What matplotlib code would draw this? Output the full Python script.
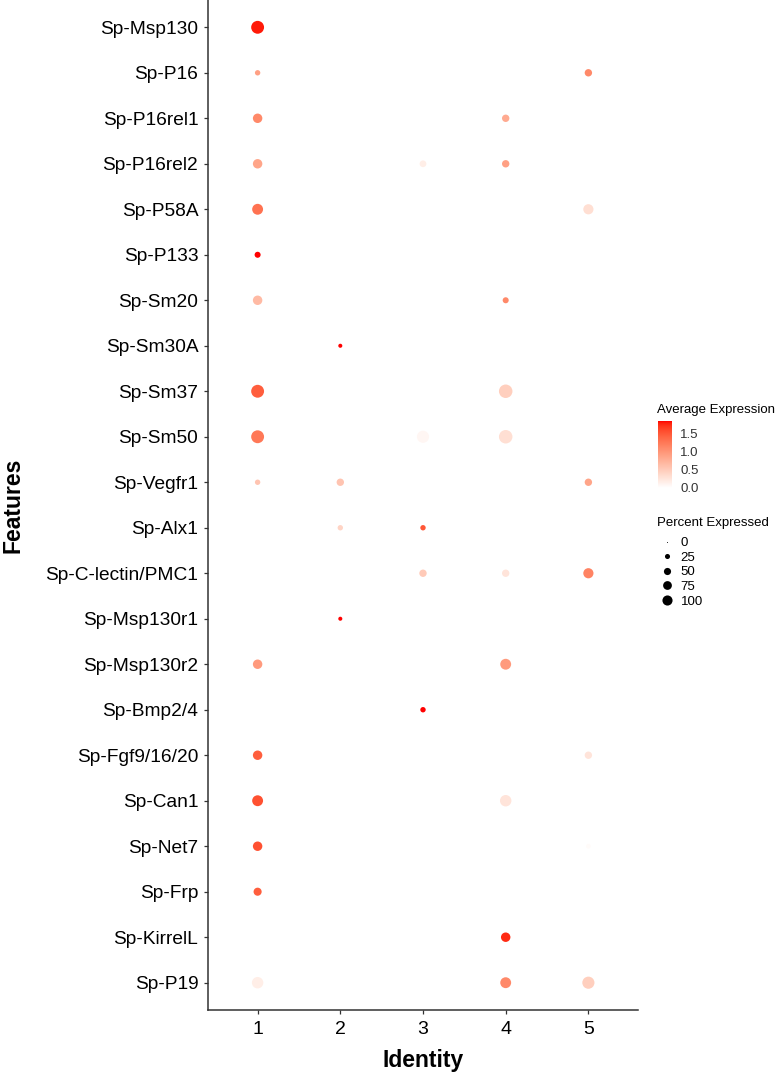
import numpy as np
from matplotlib import pyplot as plt
from matplotlib.colors import ListedColormap, Normalize
from matplotlib.lines import Line2D

plt.rcParams["font.family"] = ["Liberation Sans", "DejaVu Sans"]

features = [
    "Sp-Msp130", "Sp-P16", "Sp-P16rel1", "Sp-P16rel2", "Sp-P58A", "Sp-P133",
    "Sp-Sm20", "Sp-Sm30A", "Sp-Sm37", "Sp-Sm50", "Sp-Vegfr1", "Sp-Alx1",
    "Sp-C-lectin/PMC1", "Sp-Msp130r1", "Sp-Msp130r2", "Sp-Bmp2/4",
    "Sp-Fgf9/16/20", "Sp-Can1", "Sp-Net7", "Sp-Frp", "Sp-KirrelL", "Sp-P19",
]
identities = [1, 2, 3, 4, 5]

# one entry per dot: feature index, identity, percent expressed, average expression
dot_feature = [0, 1, 1, 2, 2, 3, 3, 3, 4, 4, 5, 6, 6, 7, 8, 8, 9, 9, 9,
               10, 10, 10, 11, 11, 12, 12, 12, 13, 14, 14, 15, 16, 16,
               17, 17, 18, 18, 19, 20, 21, 21, 21]
dot_identity = [1, 1, 5, 1, 4, 1, 3, 4, 1, 5, 1, 1, 4, 2, 1, 4, 1, 3, 4,
                1, 2, 5, 2, 3, 3, 4, 5, 2, 1, 4, 3, 1, 5,
                1, 4, 1, 5, 1, 4, 1, 4, 5]
dot_pct = [91, 16, 30, 49, 30, 49, 25, 30, 65, 57, 20, 49, 20, 9, 91, 100, 91, 81, 100,
           16, 30, 30, 16, 16, 30, 30, 57, 9, 49, 65, 16, 49, 30,
           65, 72, 49, 12, 36, 49, 72, 65, 81]
dot_avg = [1.80, 0.90, 1.10, 1.10, 0.80, 0.85, 0.15, 0.90, 1.30, 0.30, 1.85, 0.65, 1.10,
           1.85, 1.45, 0.45, 1.25, 0.07, 0.30, 0.55, 0.55, 0.85, 0.40, 1.50,
           0.50, 0.25, 1.15, 1.85, 0.95, 0.95, 1.85, 1.45, 0.25,
           1.55, 0.25, 1.55, 0.03, 1.45, 1.75, 0.15, 1.10, 0.45]

legend_pct = [0, 25, 50, 75, 100]
cbar_ticks = [0.0, 0.5, 1.0, 1.5]
VMIN, VMAX = -0.02, 1.85

DPI = 100
DMAX = 13.5  # px diameter at 100 percent


def lab_to_rgb(L, a, b):
    fy = (L + 16) / 116
    fx = fy + a / 500
    fz = fy - b / 200

    def finv(t):
        return np.where(t > 6 / 29, t ** 3, 3 * (6 / 29) ** 2 * (t - 4 / 29))

    X = 0.95047 * finv(fx)
    Y = finv(fy)
    Z = 1.08883 * finv(fz)
    r = 3.2406 * X - 1.5372 * Y - 0.4986 * Z
    g = -0.9689 * X + 1.8758 * Y + 0.0415 * Z
    bb = 0.0557 * X - 0.2040 * Y + 1.0570 * Z
    rgb = np.stack([r, g, bb], axis=-1)
    rgb = np.where(rgb <= 0.0031308, 12.92 * rgb, 1.055 * np.clip(rgb, 0, None) ** (1 / 2.4) - 0.055)
    return np.clip(rgb, 0, 1)


# white -> red gradient in Lab space, like ggplot
t = np.linspace(0, 1, 256)
L = 100 + (53.24 - 100) * t
A = 80.09 * t
B = 67.20 * t
cmap = ListedColormap(lab_to_rgb(L, A, B))
norm = Normalize(VMIN, VMAX)


def size_pts2(pct, scale=1.0):
    d_px = DMAX * np.sqrt(np.asarray(pct) / 100.0) * scale
    d_px = np.maximum(d_px, 1.0)
    return (d_px * 72 / DPI) ** 2


fig = plt.figure(figsize=(7.8, 10.77), dpi=DPI)
ax = fig.add_axes([208 / 780, 67 / 1077, 430 / 780, 1010 / 1077])

y = np.array(dot_feature)
ax.scatter(dot_identity, y, s=size_pts2(dot_pct), c=dot_avg, cmap=cmap, norm=norm,
           edgecolors="none", zorder=3)

ax.set_xlim(0.4, 5.6)
ax.set_ylim(len(features) - 0.4, -0.6)
ax.set_xticks(identities)
ax.set_xticklabels([str(i) for i in identities])
ax.set_yticks(range(len(features)))
ax.set_yticklabels(features)
ax.tick_params(axis="both", length=3, width=0.9, colors="#333333", labelcolor="black")
ax.tick_params(axis="y", labelsize=13.8, pad=4)
ax.tick_params(axis="x", labelsize=14, pad=5)
for side in ["top", "right"]:
    ax.spines[side].set_visible(False)
for side in ["left", "bottom"]:
    ax.spines[side].set_color("#333333")
    ax.spines[side].set_linewidth(1.1)

ax.set_xlabel("Identity", fontsize=16.5, fontweight="bold", labelpad=8)
ax.set_ylabel("Features", fontsize=16.5, fontweight="bold", labelpad=15)

# colour bar
cax = fig.add_axes([658 / 780, (1077 - 488) / 1077, 14 / 780, 67 / 1077])
cb = fig.colorbar(plt.cm.ScalarMappable(norm=norm, cmap=cmap), cax=cax, ticks=cbar_ticks)
cb.outline.set_visible(False)
cb.ax.tick_params(length=3, width=0.8, colors="white", labelcolor="#333333", labelsize=9.5, pad=3)
cb.ax.set_yticklabels([f"{v:.1f}" for v in cbar_ticks])
fig.text(657 / 780, 1 - 410 / 1077, "Average Expression", fontsize=9.5, va="center", ha="left")

# size legend
fig.text(657 / 780, 1 - 523 / 1077, "Percent Expressed", fontsize=9.5, va="center", ha="left")
handles = [Line2D([], [], linestyle="none", marker="o", color="black",
                  markeredgewidth=0, markersize=np.sqrt(size_pts2(p, 0.75)))
           for p in legend_pct]
leg = fig.legend(handles, [str(p) for p in legend_pct], loc="upper left",
                 bbox_to_anchor=(659 / 780, 1 - 537 / 1077), frameon=False,
                 fontsize=9.5, handlelength=1.2, handletextpad=0.45,
                 labelspacing=0.18, borderpad=0, borderaxespad=0)

fig.savefig("out.png", dpi=DPI)
